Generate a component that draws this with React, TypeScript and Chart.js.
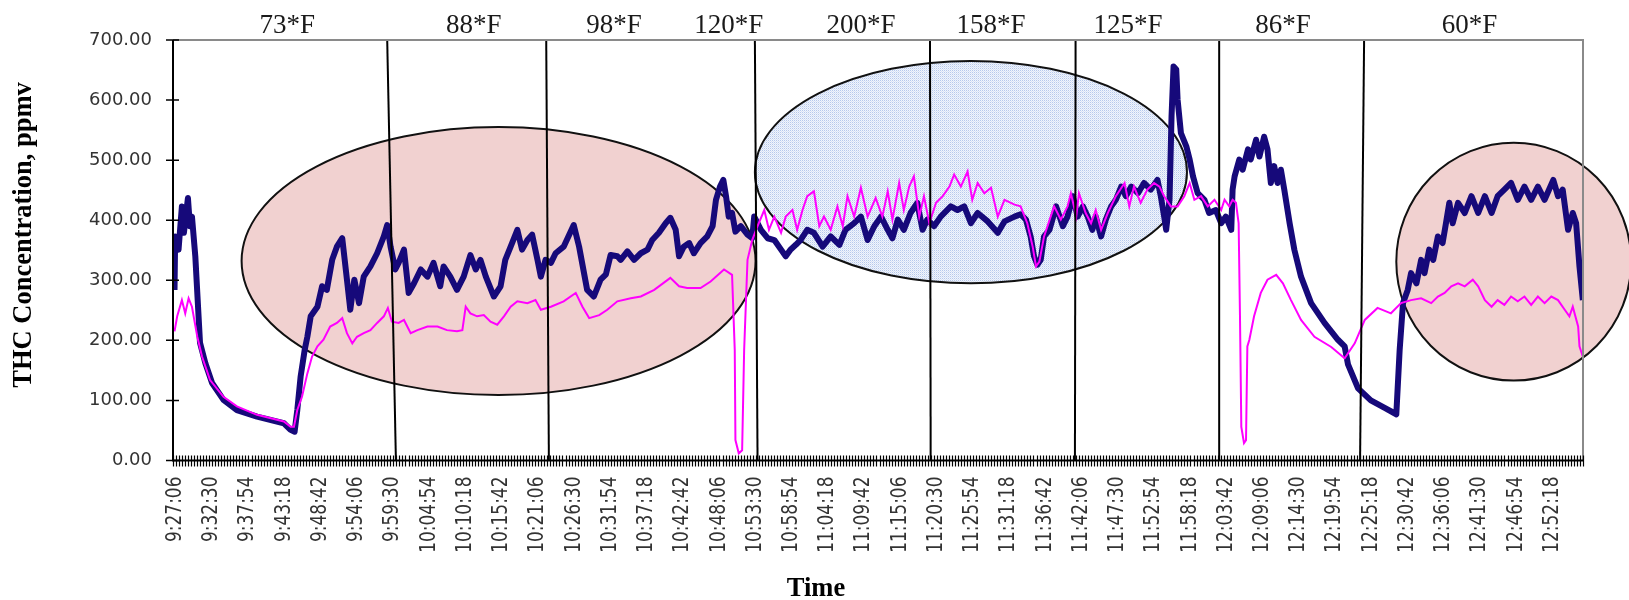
import React, { useEffect, useRef } from "react";
import { Chart, registerables } from "chart.js";

Chart.register(...registerables);

// X values are minutes after 9:27:06 (samples every 27 s, ticks labelled every 5:24)
const tickLabels = [
  "9:27:06", "9:32:30", "9:37:54", "9:43:18", "9:48:42", "9:54:06", "9:59:30",
  "10:04:54", "10:10:18", "10:15:42", "10:21:06", "10:26:30", "10:31:54", "10:37:18",
  "10:42:42", "10:48:06", "10:53:30", "10:58:54", "11:04:18", "11:09:42", "11:15:06",
  "11:20:30", "11:25:54", "11:31:18", "11:36:42", "11:42:06", "11:47:30", "11:52:54",
  "11:58:18", "12:03:42", "12:09:06", "12:14:30", "12:19:54", "12:25:18", "12:30:42",
  "12:36:06", "12:41:30", "12:46:54", "12:52:18",
];
const yTicks = [0, 100, 200, 300, 400, 500, 600, 700];

const navyTimes = [
  0, 0.1, 0.6, 1.1, 1.4, 2.0, 2.3, 2.6, 3.1, 3.8, 4.6, 5.6, 7.3, 9.3, 12.3, 16.3, 17.3, 17.9,
  18.3, 18.8, 19.4, 19.8, 20.3, 21.3, 22.0, 22.7, 23.5, 24.2, 25.0, 25.7, 26.2, 26.8, 27.5,
  28.2, 29.2, 30.2, 31.2, 31.7, 32.2, 32.9, 33.4, 34.2, 34.9, 35.7, 36.7, 37.7, 38.6, 39.6,
  40.1, 41.1, 42.1, 43.1, 44.1, 44.9, 45.6, 46.4, 47.6, 48.6, 49.3, 50.1, 51.1, 51.8, 52.6,
  53.3, 54.1, 54.6, 55.3, 56.1, 56.8, 58.0, 59.5, 60.3, 61.5, 62.5, 63.5, 64.3, 65.0, 66.0,
  66.5, 67.5, 68.5, 69.5, 70.5, 71.2, 72.2, 73.2, 73.9, 74.7, 75.2, 75.9, 76.7, 77.4, 78.4,
  79.4, 80.2, 80.7, 81.3, 81.8, 82.2, 82.6, 83.1, 83.6, 84.4, 85.4, 86.1, 86.4, 87.4, 88.4,
  89.4, 90.4, 91.1, 91.8, 92.6, 93.3, 94.3, 95.3, 96.6, 97.8, 99.1, 100.0, 101.3, 102.3,
  103.3, 104.3, 105.3, 106.3, 107.0, 107.8, 108.7, 109.7, 110.7, 111.5, 112.2, 113.2, 114.2,
  115.7, 116.7, 117.7, 118.7, 119.7, 121.2, 122.7, 123.7, 125.2, 126.1, 126.9, 127.6, 128.1,
  128.6, 129.1, 129.6, 130.4, 131.4, 132.4, 133.1, 133.9, 134.6, 135.4, 136.1, 136.8, 137.3,
  138.1, 138.8, 139.6, 140.3, 141.1, 141.8, 142.6, 143.6, 144.5, 145.5, 146.5, 147.0, 147.5,
  147.8, 148.3, 148.6, 148.9, 149.3, 149.5, 150.0, 150.8, 151.3, 151.8, 152.5, 153.5, 154.2,
  155.2, 156.0, 156.7, 157.5, 157.7, 158.0, 158.7, 159.2, 160.0, 160.4, 161.2, 161.7, 162.4,
  162.9, 163.4, 163.9, 164.4, 164.9, 165.4, 166.2, 166.9, 167.9, 169.4, 171.4, 172.4, 173.4,
  174.4, 174.9, 176.4, 178.3, 180.3, 182.1, 182.6, 183.1, 183.8, 184.3, 185.1, 185.8, 186.3,
  187.0, 187.6, 188.3, 189.0, 189.5, 190.0, 190.5, 191.3, 192.3, 193.3, 194.3, 195.3, 196.3,
  197.2, 198.2, 199.2, 200.2, 201.2, 202.2, 203.2, 204.2, 205.5, 206.2, 206.9, 207.7, 208.4,
  208.9, 209.4, 209.9,
];
const navyValues = [
  284, 373, 351, 423, 379, 437, 390, 406, 340, 196, 162, 129, 101, 84, 73, 62, 51, 48,
  84, 140, 184, 206, 240, 256, 290, 284, 334, 356, 370, 301, 251, 301, 262,
  306, 323, 345, 373, 392, 356, 318, 329, 351, 279, 295, 318, 306, 329, 290,
  323, 306, 284, 306, 342, 318, 334, 306, 273, 290, 334, 356, 384, 351, 367,
  376, 334, 306, 334, 329, 345, 356, 392, 356, 284, 273, 301, 310, 342, 340,
  334, 348, 334, 345, 351, 367, 379, 395, 404, 384, 340, 356, 362, 345, 362,
  373, 390, 434, 456, 467, 440, 406, 412, 381, 390, 376, 370, 406, 384, 370,
  367, 351, 340, 351, 359, 367, 384, 379, 356, 373, 359, 384, 395, 406,
  367, 390, 406, 384, 370, 401, 384, 412, 429, 384, 401, 390, 406,
  423, 417, 423, 395, 412, 398, 379, 398, 406, 410, 401, 373, 340,
  326, 334, 373, 384, 423, 390, 406, 440, 406, 423, 406, 384, 406,
  373, 401, 423, 434, 456, 440, 456, 445, 462, 451, 467, 440, 406,
  384, 434, 573, 656, 651, 601, 545, 523, 501, 473, 445, 434, 412,
  417, 395, 406, 384, 451, 473, 501, 484, 518, 501, 534, 506, 539,
  518, 462, 490, 462, 484, 451, 395, 351, 306, 262, 229, 215, 201,
  190, 160, 120, 100, 88, 77, 184, 262, 284, 312, 295, 334, 312,
  351, 334, 373, 362, 395, 429, 395, 429, 412, 440, 412, 440, 412,
  440, 451, 462, 434, 456, 434, 456, 434, 467, 440, 451, 384, 412,
  395, 323, 267,
];

const magentaTimes = [
  0, 0.4, 1.1, 1.6, 2.1, 2.6, 3.4, 4.1, 5.3, 7.3, 9.3, 12.3, 16.3, 17.3, 17.8, 18.3, 19.0,
  19.8, 20.5, 21.3, 22.2, 23.2, 24.2, 25.0, 25.7, 26.5, 27.2, 28.2, 29.2, 30.2, 31.2, 31.8,
  32.4, 33.4, 34.2, 35.2, 36.2, 37.7, 39.2, 40.6, 42.1, 42.9, 43.4, 44.1, 45.1, 46.1, 47.1,
  48.1, 49.1, 50.1, 51.1, 52.6, 53.8, 54.6, 56.1, 58.0, 59.8, 60.8, 61.8, 63.3, 64.5, 66.0,
  68.0, 69.5, 71.5, 73.9, 75.2, 76.4, 78.4, 79.9, 81.9, 83.1, 83.5, 83.6, 84.1, 84.6, 84.9,
  85.4, 86.1, 86.9, 87.9, 88.6, 89.4, 90.4, 91.1, 92.1, 92.8, 93.6, 94.3, 95.3, 96.1, 96.8,
  97.8, 98.8, 99.6, 100.3, 101.3, 102.3, 103.3, 104.5, 105.5, 106.3, 107.0, 108.0, 108.7,
  109.5, 110.2, 111.0, 111.7, 112.5, 113.5, 114.5, 115.5, 116.2, 117.2, 118.2, 118.9, 119.7,
  120.7, 121.7, 122.7, 123.7, 125.2, 126.1, 127.1, 127.9, 128.4, 128.9, 129.6, 131.1, 132.1,
  133.1, 133.6, 134.4, 134.8, 135.8, 136.6, 137.3, 138.1, 139.1, 140.3, 141.6, 142.3, 143.0,
  144.0, 145.0, 146.0, 146.8, 147.5, 148.5, 149.5, 150.5, 151.3, 152.0, 153.0, 154.0, 155.0,
  156.0, 156.5, 157.2, 157.7, 158.2, 158.6, 158.8, 159.0, 159.4, 159.7, 159.9, 160.2, 160.9,
  161.9, 162.9, 164.2, 165.2, 166.4, 167.9, 169.9, 172.4, 174.4, 175.9, 177.4, 179.3, 181.3,
  182.8, 184.3, 185.8, 187.3, 188.3, 189.3, 190.3, 191.3, 192.3, 193.5, 194.3, 195.3, 196.3,
  197.2, 198.2, 199.2, 200.2, 201.2, 202.2, 203.2, 204.2, 205.2, 206.2, 207.2, 207.9, 208.4,
  209.2, 209.4, 209.9,
];
const magentaValues = [
  215, 240, 267, 245, 270, 256, 206, 173, 134, 106, 90, 76, 65, 56, 56, 84, 106,
  145, 173, 190, 201, 223, 229, 237, 212, 195, 206, 212, 217, 229, 240, 254,
  231, 229, 234, 212, 217, 223, 223, 217, 215, 217, 256, 245, 240, 242, 231,
  226, 240, 256, 265, 262, 267, 251, 256, 265, 279, 256, 237, 242, 251, 265,
  270, 273, 284, 304, 290, 287, 287, 298, 318, 309, 184, 34, 12, 17, 184,
  334, 367, 390, 417, 384, 406, 379, 406, 417, 384, 417, 440, 448, 390, 406,
  384, 423, 390, 440, 406, 454, 406, 437, 406, 448, 401, 462, 417,
  456, 473, 406, 440, 395, 429, 440, 456, 476, 456, 481, 434, 462,
  445, 454, 406, 434, 426, 423, 395, 356, 323, 331, 373, 423, 401,
  423, 445, 406, 445, 412, 395, 417, 384, 412, 440, 462, 423, 456,
  429, 451, 462, 456, 440, 423, 423, 440, 462, 434, 440, 423, 434,
  417, 434, 423, 434, 429, 395, 240, 56, 29, 34, 190, 201, 240,
  279, 301, 309, 295, 267, 234, 206, 189, 170, 195, 234, 254, 245,
  262, 267, 270, 262, 273, 279, 290, 295, 290, 301, 290, 267, 256,
  267, 259, 273, 265, 273, 259, 273, 262, 273, 267, 251, 240, 256,
  223, 190, 173,
];

// Hand-drawn temperature boundaries (top / bottom time, minutes after 9:27:06)
const boundaryTop = [31.7, 55.4, 86.5, 112.6, 134.3, 155.7, 177.3];
const boundaryBottom = [33.0, 55.8, 86.9, 112.7, 134.2, 155.7, 176.7];

const tempLabels = ["73*F", "88*F", "98*F", "120*F", "200*F", "158*F", "125*F", "86*F", "60*F"];
const tempLabelTimes = [16.8, 44.6, 65.5, 82.6, 102.3, 121.7, 142.1, 165.2, 193.0];

// Highlight ellipses: centre time, centre value, half-width (minutes), half-height (ppmv)
const ellipseCx = [48.3, 118.7, 199.6];
const ellipseCy = [332, 480, 331];
const ellipseRx = [38.3, 32.2, 17.5];
const ellipseRy = [223, 185, 198];
const ellipseKind = ["pink", "blue", "pink"];

const X_MIN = -0.225;
const X_MAX = 209.925;
const MINOR_STEP = 0.45;
const LABEL_STEP = 5.4;

function makeBluePattern(ctx: CanvasRenderingContext2D) {
  const c = document.createElement("canvas");
  c.width = 2;
  c.height = 2;
  const p = c.getContext("2d")!;
  p.fillStyle = "rgb(241,245,252)";
  p.fillRect(0, 0, 2, 2);
  p.fillStyle = "rgb(182,200,236)";
  p.fillRect(0, 0, 1, 1);
  p.fillStyle = "rgb(216,226,246)";
  p.fillRect(1, 1, 1, 1);
  return ctx.createPattern(c, "repeat");
}

const ellipsePlugin = {
  id: "ellipses",
  beforeDatasetsDraw(chart: any) {
    const { ctx, scales } = chart;
    const xs = scales.x;
    const ys = scales.y;
    ctx.save();
    for (let i = 0; i < ellipseCx.length; i++) {
      const cx = xs.getPixelForValue(ellipseCx[i]);
      const cy = ys.getPixelForValue(ellipseCy[i]);
      const rx = Math.abs(xs.getPixelForValue(ellipseCx[i] + ellipseRx[i]) - cx);
      const ry = Math.abs(ys.getPixelForValue(ellipseCy[i] + ellipseRy[i]) - cy);
      ctx.beginPath();
      ctx.ellipse(cx, cy, rx, ry, 0, 0, Math.PI * 2);
      ctx.fillStyle = ellipseKind[i] === "pink" ? "rgb(241,209,208)" : (makeBluePattern(ctx) as any);
      ctx.fill();
      ctx.lineWidth = 2;
      ctx.strokeStyle = "#111";
      ctx.stroke();
    }
    ctx.restore();
  },
};

const overlayPlugin = {
  id: "overlay",
  afterDraw(chart: any) {
    const { ctx, scales, chartArea } = chart;
    const xs = scales.x;
    const ys = scales.y;
    const { left, right, top, bottom } = chartArea;
    ctx.save();
    // frame
    ctx.lineWidth = 2;
    ctx.strokeStyle = "#8a8a8a";
    ctx.beginPath();
    ctx.moveTo(left, top);
    ctx.lineTo(right, top);
    ctx.lineTo(right, bottom);
    ctx.stroke();
    ctx.strokeStyle = "#000";
    ctx.beginPath();
    ctx.moveTo(left, top);
    ctx.lineTo(left, bottom);
    ctx.lineTo(right, bottom);
    ctx.stroke();
    // crossing tick marks
    ctx.lineWidth = 1.2;
    ctx.beginPath();
    for (let v = X_MIN; v <= X_MAX + 1e-6; v += MINOR_STEP) {
      const px = Math.round(xs.getPixelForValue(v)) + 0.5;
      ctx.moveTo(px, bottom - 5);
      ctx.lineTo(px, bottom + 6);
    }
    ctx.stroke();
    ctx.lineWidth = 1.5;
    ctx.beginPath();
    for (const v of yTicks) {
      const py = ys.getPixelForValue(v);
      ctx.moveTo(left - 7, py);
      ctx.lineTo(left + 6, py);
    }
    ctx.stroke();
    // x tick labels (narrow, rotated), placed at the scale's tick positions
    ctx.fillStyle = "#333";
    ctx.font = "17px 'DejaVu Sans'";
    ctx.textAlign = "right";
    ctx.textBaseline = "middle";
    xs.ticks.forEach((tk: any, i: number) => {
      const px = xs.getPixelForValue(tk.value);
      ctx.save();
      ctx.translate(px + 1, bottom + 16);
      ctx.rotate(-Math.PI / 2);
      ctx.scale(1, 1.25);
      ctx.fillText(tickLabels[i], 0, 0);
      ctx.restore();
    });
    // temperature labels
    ctx.fillStyle = "#1a1a1a";
    ctx.font = "27px 'Liberation Serif'";
    ctx.textAlign = "center";
    ctx.textBaseline = "alphabetic";
    tempLabels.forEach((t, i) => {
      ctx.fillText(t, xs.getPixelForValue(tempLabelTimes[i]), 33);
    });
    // axis titles
    ctx.fillStyle = "#000";
    ctx.font = "bold 26.5px 'Liberation Serif'";
    ctx.textBaseline = "middle";
    ctx.fillText("Time", 816, 589);
    ctx.translate(24, 235);
    ctx.rotate(-Math.PI / 2);
    ctx.fillText("THC Concentration, ppmv", 0, 0);
    ctx.restore();
  },
};

export default function App() {
  const ref = useRef<HTMLCanvasElement>(null);
  useEffect(() => {
    const lineSets = boundaryTop.map((t, i) => ({
      label: "boundary" + i,
      data: [
        { x: t, y: 700 },
        { x: boundaryBottom[i], y: 0 },
      ],
      borderColor: "#000",
      borderWidth: 2,
      pointRadius: 0,
      order: 0,
    }));
    const chart = new Chart(ref.current!, {
      type: "line",
      data: {
        datasets: [
          ...lineSets,
          {
            label: "Inlet",
            data: magentaTimes.map((t, i) => ({ x: t, y: magentaValues[i] })),
            borderColor: "#ff00ff",
            borderWidth: 2,
            pointRadius: 0,
            tension: 0,
            order: 1,
          },
          {
            label: "Outlet",
            data: navyTimes.map((t, i) => ({ x: t, y: navyValues[i] })),
            borderColor: "#16097a",
            borderWidth: 6,
            borderJoinStyle: "round",
            pointRadius: 0,
            tension: 0,
            order: 2,
          },
        ] as any,
      },
      options: {
        responsive: false,
        animation: false,
        devicePixelRatio: 1,
        layout: { padding: { top: 40, right: 46, left: 0, bottom: 0 } },
        plugins: { legend: { display: false }, tooltip: { enabled: false } },
        scales: {
          x: {
            type: "linear",
            min: X_MIN,
            max: X_MAX,
            grid: { display: false, drawTicks: false },
            border: { display: false },
            afterBuildTicks: (scale: any) => {
              scale.ticks = tickLabels.map((_, i) => ({ value: i * LABEL_STEP }));
            },
            afterFit: (scale: any) => {
              scale.height = 139.5;
            },
            ticks: {
              display: false,
              autoSkip: false,
              callback: (_v: any, i: number) => tickLabels[i],
            },
          },
          y: {
            min: 0,
            max: 700,
            grid: { display: false, drawTicks: false },
            border: { display: false },
            afterFit: (scale: any) => {
              scale.width = 173;
            },
            afterBuildTicks: (scale: any) => {
              scale.ticks = yTicks.map((v) => ({ value: v }));
            },
            ticks: {
              padding: 21,
              color: "#333",
              font: { family: "'DejaVu Sans'", size: 18 },
              callback: (v: any) => Number(v).toFixed(2),
            },
          },
        },
      },
      plugins: [ellipsePlugin, overlayPlugin],
    });
    return () => chart.destroy();
  }, []);
  return (
    <div style={{ position: "absolute", left: 0, top: 0, width: 1629, height: 600, background: "#fff" }}>
      <canvas ref={ref} width={1629} height={600} style={{ display: "block" }} />
    </div>
  );
}
